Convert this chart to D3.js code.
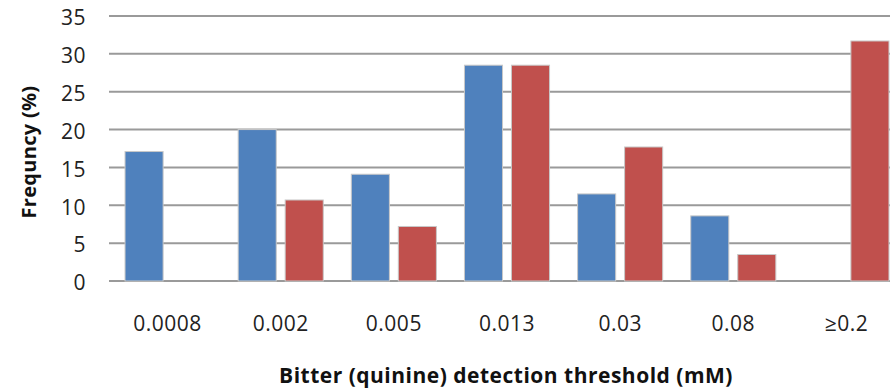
<!DOCTYPE html>
<html>
<head>
<meta charset="utf-8">
<script src="https://cdn.jsdelivr.net/npm/d3@7"></script>
<style>
  body { margin: 0; background: #fff; }
  svg { display: block; }
</style>
</head>
<body>
<svg id="chart" width="890" height="390"></svg>
<script>
// thresholds along the x axis
const categories = ['0.0008', '0.002', '0.005', '0.013', '0.03', '0.08', '\u22650.2'];
// two series
const blueValues = [17.1, 20.0, 14.1, 28.5, 11.5, 8.6, 0];
const redValues = [0, 10.7, 7.2, 28.5, 17.7, 3.5, 31.7];
const yTicks = [0, 5, 10, 15, 20, 25, 30, 35];

const seriesNames = ['blue', 'red'];
const seriesColors = {blue: '#4f81bd', red: '#c0504d'};

const svg = d3.select('#chart');

//Scales - plot runs off the right edge like the original crop
const x = d3.scaleBand()
    .domain(categories)
    .range([111, 903]);

const xSub = d3.scaleBand()
    .domain(seriesNames)
    .range([x.bandwidth() * 0.124, x.bandwidth() * 0.876])
    .paddingInner(0.19);

const y = d3.scaleLinear()
    .domain([0, 35])
    .range([281, 16]);

//Gridlines
svg.append('g')
    .selectAll('line')
    .data(yTicks)
    .enter().append('line')
    .attr('x1', 109)
    .attr('x2', 890)
    .attr('y1', d => y(d))
    .attr('y2', d => y(d))
    .attr('stroke', '#9a9a9a')
    .attr('stroke-width', 2);

//Y axis labels
svg.append('g')
    .attr('transform', 'translate(86,2)')
    .call(d3.axisLeft(y).tickValues(yTicks).tickSize(0).tickPadding(0))
    .call(g => g.select('.domain').remove())
    .selectAll('text')
    .attr('font-family', 'Open Sans')
    .attr('font-size', 21)
    .attr('letter-spacing', 0.5)
    .attr('fill', '#222');

//Bars
const rows = categories.map((c, i) => ({cat: c, blue: blueValues[i], red: redValues[i]}));

const groups = svg.append('g')
    .selectAll('g')
    .data(rows)
    .enter().append('g')
    .attr('transform', d => 'translate(' + x(d.cat) + ',0)');

groups.selectAll('rect')
    .data(d => seriesNames.map(s => ({key: s, value: d[s]})).filter(v => v.value > 0))
    .enter().append('rect')
    .attr('x', d => xSub(d.key))
    .attr('width', xSub.bandwidth())
    .attr('y', d => y(d.value))
    .attr('height', d => y(0) - y(d.value))
    .attr('fill', d => seriesColors[d.key])
    .attr('stroke', '#c8c8c8')
    .attr('stroke-width', 1);

//X axis labels
svg.append('g')
    .attr('transform', 'translate(0,' + 316 + ')')
    .call(d3.axisBottom(x).tickSize(0).tickPadding(0))
    .call(g => g.select('.domain').remove())
    .selectAll('text')
    .attr('font-family', 'Open Sans')
    .attr('font-size', 21)
    .attr('letter-spacing', 0.5)
    .attr('fill', '#222');

//Axis titles
svg.append('text')
    .attr('x', 506)
    .attr('y', 383)
    .attr('text-anchor', 'middle')
    .attr('font-family', 'Open Sans')
    .attr('font-weight', 'bold')
    .attr('font-size', 21)
    .attr('letter-spacing', 0.5)
    .attr('fill', '#111')
    .text('Bitter (quinine) detection threshold (mM)');

svg.append('text')
    .attr('transform', 'translate(36,152) rotate(-90)')
    .attr('text-anchor', 'middle')
    .attr('font-family', 'Open Sans')
    .attr('font-weight', 'bold')
    .attr('font-size', 20)
    .attr('letter-spacing', 0.3)
    .attr('fill', '#111')
    .text('Frequncy (%)');
</script>
</body>
</html>
